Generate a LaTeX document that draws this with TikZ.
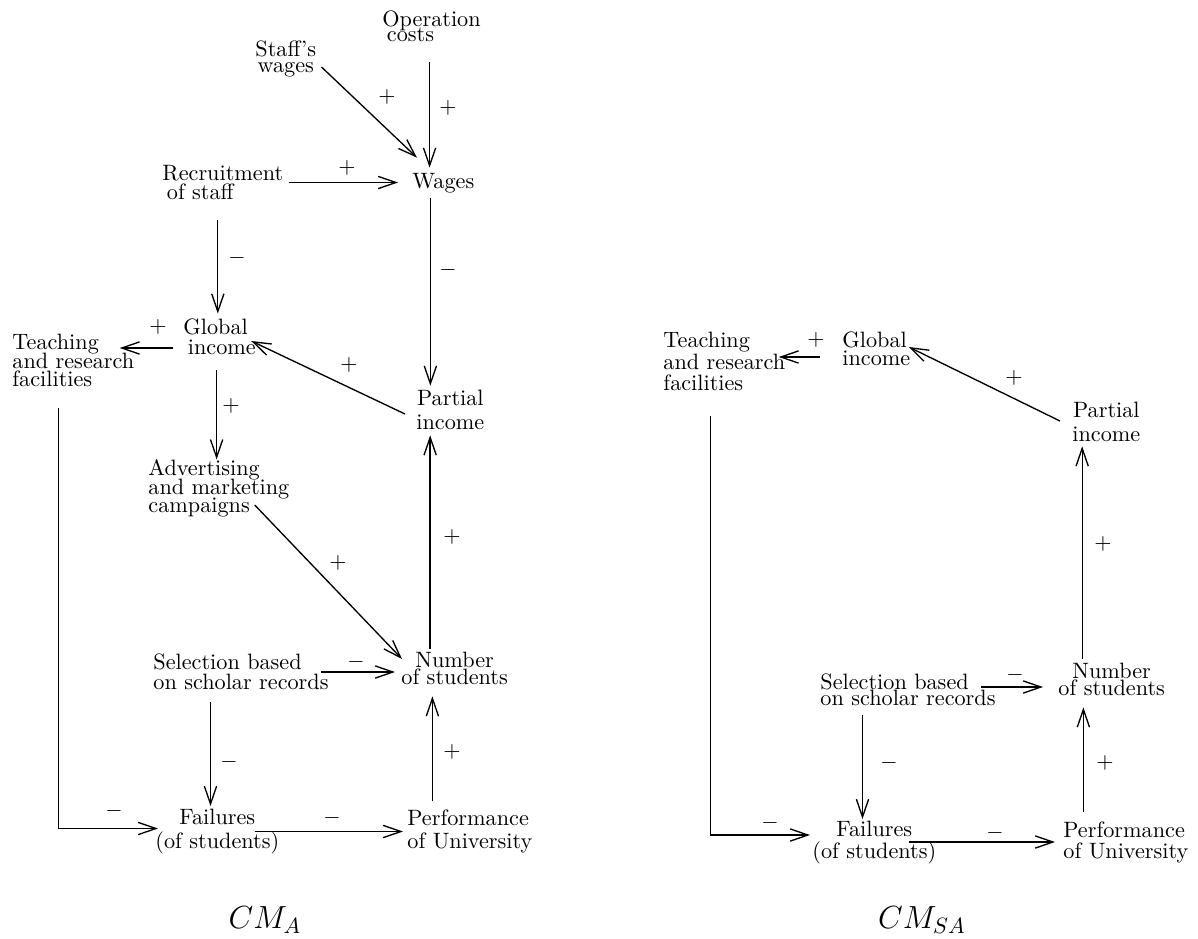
\documentclass[tikz,border=0pt]{standalone}
\usepackage{amsmath}
\usetikzlibrary{arrows.meta}

\tikzset{
  concept/.style={inner sep=0pt, anchor=west, align=left,
    font={\fontsize{10pt}{#1}\selectfont\lineskiplimit=-20pt}},
  concept/.default=9pt,
  sign/.style={inner sep=0pt},
  link/.style={line width=0.6pt, -{Straight Barb[length=8pt,width=5.5pt]}},
}

\begin{document}
\begin{tikzpicture}[x=0.45pt, y=-0.45pt]
\useasboundingbox (0,0) rectangle (1198,938);

% left map: the concepts
\node[concept=6.8pt] (opcost) at (382,26.5) {Operation\\\hspace{2pt}costs};
\node[concept=6.8pt, align=center] (staffw) at (255,59) {Staff's\\wages};
\node[concept] (wages) at (412,183) {Wages};
\node[concept=8.6pt] (recruit) at (162,182.5) {Recruitment\\\hspace{2pt}of staff};
\node[concept] (global) at (183,337) {Global\\\hspace{2pt}income};
\node[concept=8.3pt] (teach) at (12,360.5) {Teaching\\and research\\facilities};
\node[concept=10.8pt, align=center] (partial) at (416,410) {Partial\\income};
\node[concept=8.3pt] (advert) at (148,488.5) {Advertising\\and marketing\\campaigns};
\node[concept=7.7pt, align=center] (number) at (401,668.5) {Number\\of students};
\node[concept] (select) at (153,672) {Selection based\\on scholar records};
\node[concept=10.4pt, align=center] (fail) at (155,831.5) {Failures\\(of students)};
\node[concept=10.4pt] (perform) at (407,831.5) {Performance\\of University};
\node[font=\Large] (titleA) at (265,920) {$CM_A$};

% left map: the links
\draw[link] ([shift={(5,8)}]staffw.east) -- ([shift={(5,-15)}]wages.north west);
\draw[link] ([shift={(-2,20)}]opcost.south) -- ([shift={(-2,-5)}]opcost.south |- wages.north);
\draw[link] ([shift={(5,0)}]recruit.east) -- ([shift={(-14,0)}]wages.west |- recruit.east);
\draw[link] ([shift={(-5,20)}]recruit.south) -- ([shift={(-5,-5)}]recruit.south |- global.north);
\draw[link] ([shift={(-13,5)}]wages.south) -- ([shift={(-13,-4)}]wages.south |- partial.north);
\draw[link] ([shift={(-10,11)}]global.west) -- ([shift={(-15,11)}]teach.east |- global.west);
\draw[link] ([shift={(-11,4)}]partial.west) -- ([shift={(-5,4)}]global.east);
\draw[link] ([shift={(-3,15)}]global.south) -- ([shift={(-3,0)}]global.south |- advert.north);
\draw[link] ([shift={(-35,16.5)}]advert.east) -- ([shift={(1,-9.5)}]number.west);
\draw[link] ([shift={(-24.5,-3)}]number.north) -- ([shift={(-24.5,5)}]number.north |- partial.south);
\draw[link] ([shift={(-8,0)}]select.east) -- ([shift={(-6,0)}]number.west |- select.east);
\draw[link] ([shift={(-30.5,12)}]select.south) -- ([shift={(-30.5,-3)}]select.south |- fail.north);
\draw[link] ([shift={(-25,0)}]fail.east) -- ([shift={(-4,0)}]perform.west |- fail.east);
\draw[link] ([shift={(-37.5,-8)}]perform.north) -- ([shift={(-37.5,11)}]perform.north |- number.south);
\draw[link] ([shift={(-15,21)}]teach.south) |- ([shift={(3,-3)}]fail.west);

% left map: the signs
\node[sign] (a1) at (387,97) {$+$};
\node[sign] (a2) at (448,108) {$+$};
\node[sign] (a3) at (347,168) {$+$};
\node[sign] (a4) at (237,258) {$-$};
\node[sign] (a5) at (448,270) {$-$};
\node[sign] (a6) at (158,327) {$+$};
\node[sign] (a7) at (349,365) {$+$};
\node[sign] (a8) at (231,406) {$+$};
\node[sign] (a9) at (338,563) {$+$};
\node[sign] (a10) at (452,537) {$+$};
\node[sign] (a11) at (356,662) {$-$};
\node[sign] (a12) at (229,762) {$-$};
\node[sign] (a13) at (332,818) {$-$};
\node[sign] (a14) at (452,752) {$+$};
\node[sign] (a15) at (114,811) {$-$};

% right map: the concepts
\node[concept=9.7pt] (teachS) at (663,361.5) {Teaching\\and research\\facilities};
\node[concept=8.1pt] (globalS) at (842,349) {Global\\income};
\node[concept=10.8pt, align=center] (partialS) at (1072,422) {Partial\\income};
\node[concept=7.7pt, align=center] (numberS) at (1058,679.5) {Number\\of students};
\node[concept=7.4pt] (selectS) at (820,690) {Selection based\\on scholar records};
\node[concept=9.5pt, align=center] (failS) at (812,842.5) {Failures\\(of students)};
\node[concept=9.5pt] (performS) at (1063,842.5) {Performance\\of University};
\node[font=\Large] (titleSA) at (922,920) {$CM_{SA}$};

% right map: the links
\draw[link] ([shift={(-22,8)}]globalS.west) -- ([shift={(-7,8)}]teachS.east |- globalS.west);
\draw[link] ([shift={(-12,-1)}]partialS.west) -- ([shift={(-2,-2)}]globalS.east);
\draw[link] ([shift={(-29.5,-4)}]numberS.north) -- ([shift={(-29.5,4)}]numberS.north |- partialS.south);
\draw[link] ([shift={(-15,-3)}]selectS.east) -- ([shift={(-15,-3)}]numberS.west |- selectS.east);
\draw[link] ([shift={(-45.5,8)}]selectS.south) -- ([shift={(-45.5,-2)}]selectS.south |- failS.north);
\draw[link] ([shift={(-28,-0.5)}]failS.east) -- ([shift={(-8,-0.5)}]performS.west |- failS.east);
\draw[link] ([shift={(-42.5,-9)}]performS.north) -- ([shift={(-42.5,11)}]performS.north |- numberS.south);
\draw[link] ([shift={(-14,25)}]teachS.south) |- ([shift={(-2,-7.5)}]failS.west);

% right map: the signs
\node[sign] (b1) at (816,340) {$+$};
\node[sign] (b2) at (1014,378) {$+$};
\node[sign] (b3) at (1103,544) {$+$};
\node[sign] (b4) at (1015,675) {$-$};
\node[sign] (b5) at (889,763) {$-$};
\node[sign] (b6) at (995,833) {$-$};
\node[sign] (b7) at (1105,763) {$+$};
\node[sign] (b8) at (770,823) {$-$};
\end{tikzpicture}
\end{document}
